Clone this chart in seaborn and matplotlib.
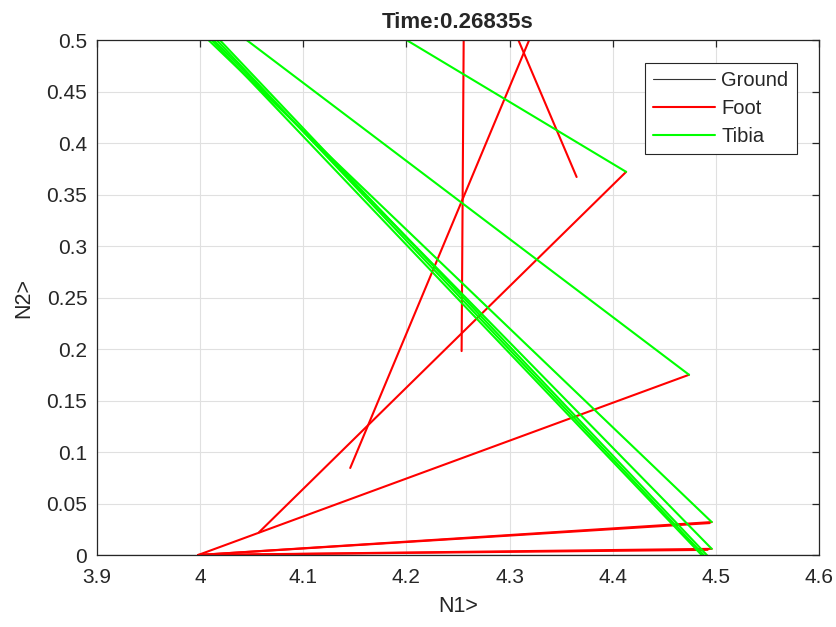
import matplotlib
matplotlib.use("Agg")
import matplotlib.pyplot as plt
import seaborn as sns
import pandas as pd
from matplotlib.lines import Line2D

# ---- data (segments: x0, y0, x1, y1) ----
ground_x = [3.5, 5.0]
ground_y = [0.0, 0.0]

foot_x0 = [4.2555, 4.1455, 4.3085, 4.413, 3.998, 3.998, 3.998, 3.998, 3.998]
foot_y0 = [0.50, 0.0845, 0.50, 0.372, 0.0, 0.0, 0.0, 0.0, 0.0]
foot_x1 = [4.2535, 4.319, 4.365, 4.057, 4.474, 4.496, 4.494, 4.496, 4.492]
foot_y1 = [0.198, 0.50, 0.367, 0.022, 0.175, 0.032, 0.031, 0.006, 0.005]

tibia_x0 = [4.200, 4.045, 4.008, 4.013, 4.016, 4.019, 4.011]
tibia_y0 = [0.50, 0.50, 0.50, 0.50, 0.50, 0.50, 0.50]
tibia_x1 = [4.413, 4.474, 4.496, 4.496, 4.492, 4.495, 4.490]
tibia_y1 = [0.372, 0.175, 0.032, 0.006, -0.004, -0.004, -0.004]

title = "Time:0.26835s"
xlabel = "N1>"
ylabel = "N2>"
xticks = [3.9, 4.0, 4.1, 4.2, 4.3, 4.4, 4.5, 4.6]
xtick_labels = ["3.9", "4", "4.1", "4.2", "4.3", "4.4", "4.5", "4.6"]
yticks = [0, 0.05, 0.1, 0.15, 0.2, 0.25, 0.3, 0.35, 0.4, 0.45, 0.5]
ytick_labels = ["0", "0.05", "0.1", "0.15", "0.2", "0.25", "0.3", "0.35", "0.4", "0.45", "0.5"]


def seg_frame(x0, y0, x1, y1):
    rows = []
    for i, (a, b, c, d) in enumerate(zip(x0, y0, x1, y1)):
        rows.append({"seg": i, "order": 0, "x": a, "y": b})
        rows.append({"seg": i, "order": 1, "x": c, "y": d})
    return pd.DataFrame(rows)


sns.set_theme(style="white")
plt.rcParams["font.family"] = ["Liberation Sans", "DejaVu Sans"]

fig = plt.figure(figsize=(8.37, 6.27), dpi=100)
ax = fig.add_axes([0.1159, 0.1148, 0.9785 - 0.1159, 0.9362 - 0.1148])

gdf = pd.DataFrame({"seg": [0, 0], "x": ground_x, "y": ground_y})
sns.lineplot(data=gdf, x="x", y="y", units="seg", estimator=None, sort=False,
             color="black", lw=0.8, ax=ax)
sns.lineplot(data=seg_frame(foot_x0, foot_y0, foot_x1, foot_y1), x="x", y="y",
             units="seg", estimator=None, sort=False, color="#ff0000", lw=1.5, ax=ax)
sns.lineplot(data=seg_frame(tibia_x0, tibia_y0, tibia_x1, tibia_y1), x="x", y="y",
             units="seg", estimator=None, sort=False, color="#00ff00", lw=1.5, ax=ax)

ax.set_xlim(3.9, 4.6)
ax.set_ylim(0, 0.5)
ax.set_xticks(xticks)
ax.set_xticklabels(xtick_labels)
ax.set_yticks(yticks)
ax.set_yticklabels(ytick_labels)
ax.grid(True, color="#e0e0e0", lw=0.8)
ax.set_axisbelow(True)
for s in ax.spines.values():
    s.set_color("#262626")
    s.set_linewidth(0.9)
    s.set_visible(True)
ax.tick_params(direction="in", length=5, width=0.9, color="#262626",
               top=True, right=True, labelsize=15, labelcolor="#262626")
ax.tick_params(axis="x", pad=9)
ax.tick_params(axis="y", pad=7)
ax.set_title(title, fontsize=16, fontweight="bold", pad=9)
ax.set_xlabel(xlabel, fontsize=15.5, color="#262626", labelpad=7)
ax.set_ylabel(ylabel, fontsize=15.5, color="#262626", labelpad=9)

handles = [Line2D([0], [0], color="#333333", lw=0.8),
           Line2D([0], [0], color="#ff0000", lw=1.5),
           Line2D([0], [0], color="#00ff00", lw=1.5)]
leg = ax.legend(handles, ["Ground", "Foot", "Tibia"], loc="upper right",
                bbox_to_anchor=(0.969, 0.956), fontsize=14.5, frameon=True,
                fancybox=False, framealpha=1, edgecolor="#262626",
                handlelength=3.1, borderpad=0.4, labelspacing=0.45,
                handletextpad=0.3, borderaxespad=0)
leg.get_frame().set_linewidth(0.8)

fig.savefig("out.png", dpi=100)
